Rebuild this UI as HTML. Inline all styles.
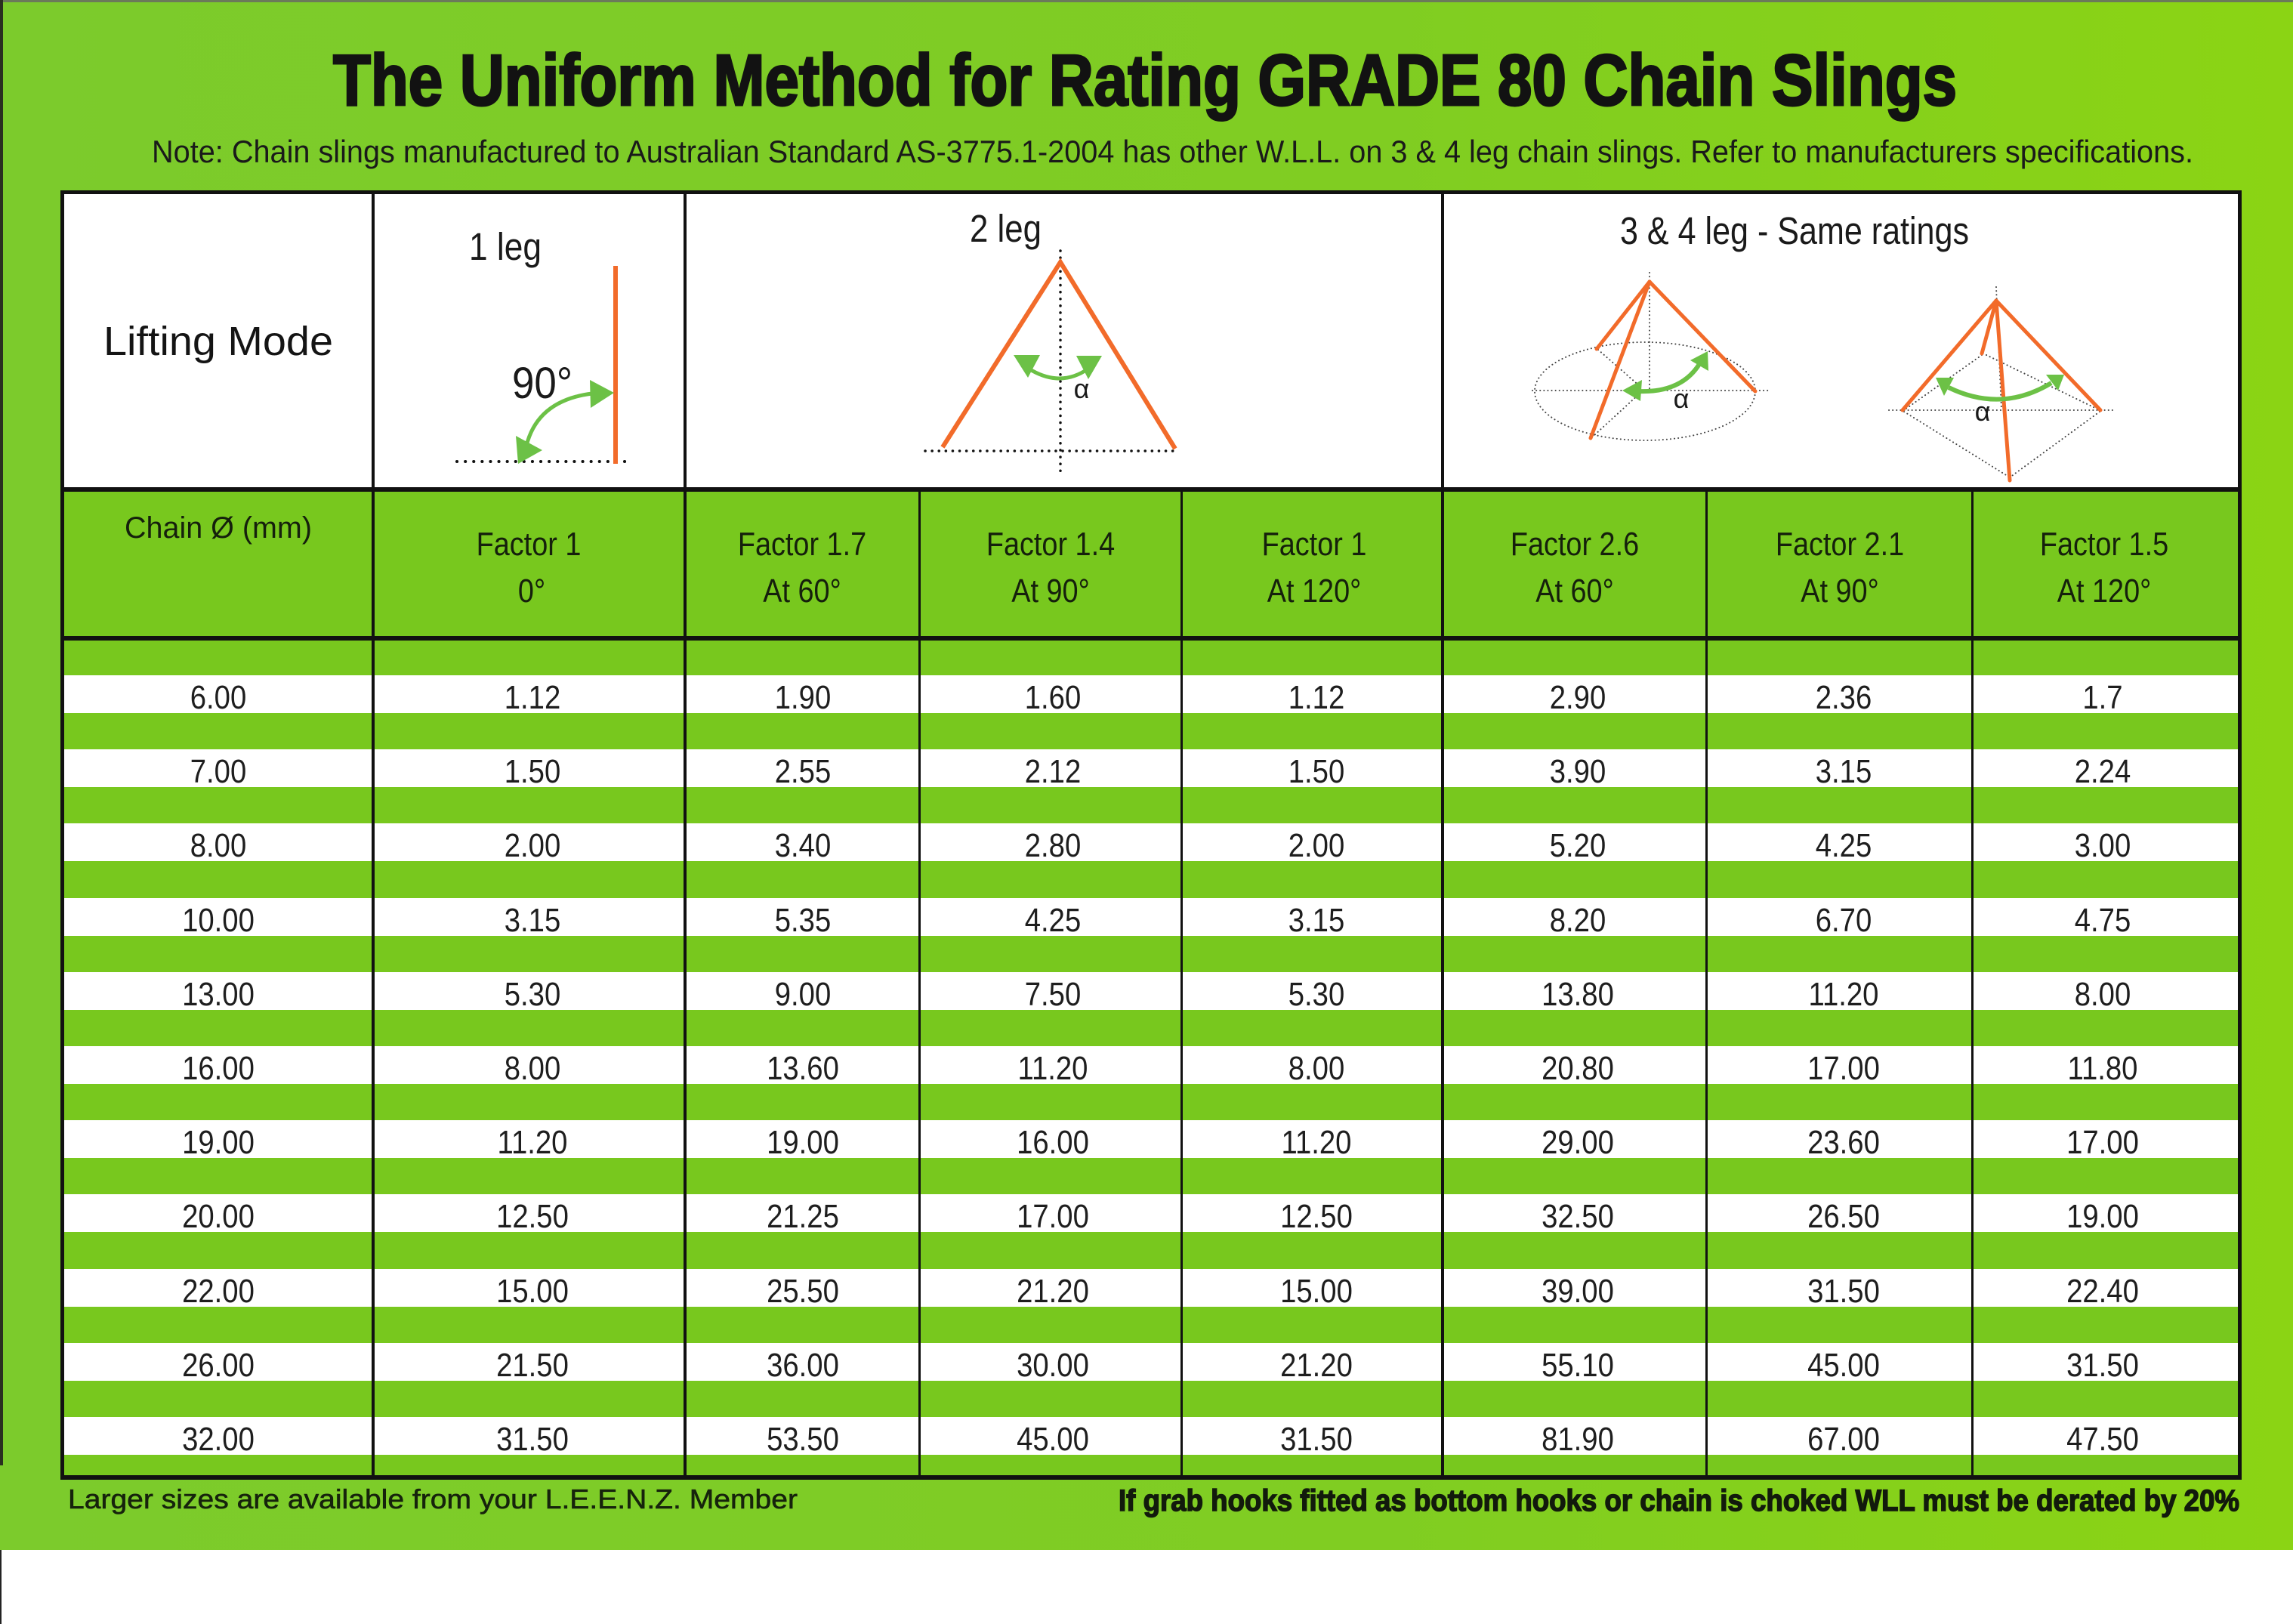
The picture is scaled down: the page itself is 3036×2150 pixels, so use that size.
<!DOCTYPE html>
<html>
<head>
<meta charset="utf-8">
<style>
html,body{margin:0;padding:0;background:#fff;}
svg{display:block;}
text{font-family:"Liberation Sans",Arial,sans-serif;}
.d{font-size:44px;fill:#1e1e1e;}
.h{font-size:44px;fill:#15200c;}
</style>
</head>
<body>
<svg width="3036" height="2150" viewBox="0 0 3036 2150" xmlns="http://www.w3.org/2000/svg">
<defs>
<linearGradient id="bg" x1="0" y1="0" x2="1" y2="0">
<stop offset="0" stop-color="#7ccb2c"/>
<stop offset="0.6" stop-color="#80cd22"/>
<stop offset="1" stop-color="#8bd414"/>
</linearGradient>
</defs>
<rect x="0" y="0" width="3036" height="2150" fill="#ffffff"/>
<rect x="0" y="0" width="3036" height="2052" fill="url(#bg)"/>
<rect x="0" y="0" width="3036" height="3" fill="#6b7a5a"/>
<rect x="0" y="0" width="4" height="1940" fill="#2a3020"/>
<rect x="0" y="2052" width="2" height="98" fill="#222"/>

<!-- Title -->
<text x="441" y="139" font-size="96" font-weight="bold" fill="#121212" stroke="#121212" stroke-width="3" textLength="2150" lengthAdjust="spacingAndGlyphs">The Uniform Method for Rating GRADE 80 Chain Slings</text>
<text x="201" y="215" font-size="42" fill="#1a1a1a" textLength="2703" lengthAdjust="spacingAndGlyphs">Note: Chain slings manufactured to Australian Standard AS-3775.1-2004 has other W.L.L. on 3 &amp; 4 leg chain slings. Refer to manufacturers specifications.</text>

<!-- Table backgrounds -->
<rect x="82" y="254" width="2884" height="394" fill="#ffffff"/>
<rect x="82" y="648" width="2884" height="1308" fill="#78c81e"/>
<g fill="#ffffff">
<rect x="82" y="894" width="2884" height="50"/>
<rect x="82" y="992" width="2884" height="50"/>
<rect x="82" y="1090" width="2884" height="50"/>
<rect x="82" y="1189" width="2884" height="50"/>
<rect x="82" y="1287" width="2884" height="50"/>
<rect x="82" y="1385" width="2884" height="50"/>
<rect x="82" y="1483" width="2884" height="50"/>
<rect x="82" y="1581" width="2884" height="50"/>
<rect x="82" y="1680" width="2884" height="50"/>
<rect x="82" y="1778" width="2884" height="50"/>
<rect x="82" y="1876" width="2884" height="50"/>
</g>

<!-- Table lines -->
<g fill="#111">
<rect x="80" y="252" width="2888" height="5"/>
<rect x="80" y="645" width="2888" height="6"/>
<rect x="80" y="842" width="2888" height="6"/>
<rect x="80" y="1953" width="2888" height="6"/>
<rect x="80" y="252" width="5" height="1707"/>
<rect x="2963" y="252" width="5" height="1707"/>
<rect x="492" y="252" width="4" height="1707"/>
<rect x="905" y="252" width="4" height="1707"/>
<rect x="1908" y="252" width="4" height="1707"/>
<rect x="1216" y="648" width="3" height="1310"/>
<rect x="1563" y="648" width="3" height="1310"/>
<rect x="2258" y="648" width="3" height="1310"/>
<rect x="2610" y="648" width="3" height="1310"/>
</g>

<!-- Header row 1 -->
<text x="137" y="470" font-size="54" fill="#141414" textLength="304" lengthAdjust="spacingAndGlyphs">Lifting Mode</text>

<!-- 1 leg -->
<text x="621" y="344" font-size="51" fill="#1a1a1a" textLength="96" lengthAdjust="spacingAndGlyphs">1 leg</text>
<line x1="605" y1="611" x2="834" y2="611" stroke="#111" stroke-width="4" stroke-linecap="round" stroke-dasharray="0.1 11"/>
<line x1="815" y1="352" x2="815" y2="614" stroke="#f26b2a" stroke-width="6"/>
<text x="678" y="527" font-size="58" fill="#1a1a1a" textLength="80" lengthAdjust="spacingAndGlyphs">90°</text>
<path d="M697,590 Q712,530 784,521" stroke="#6cc146" stroke-width="5" fill="none"/>
<polygon points="813,520 781,503 782,540" fill="#6cc146"/>
<polygon points="686,614 683,577 718,596" fill="#6cc146"/>

<!-- 2 leg -->
<text x="1284" y="320" font-size="51" fill="#1a1a1a" textLength="95" lengthAdjust="spacingAndGlyphs">2 leg</text>
<line x1="1404" y1="332" x2="1404" y2="628" stroke="#111" stroke-width="3.5" stroke-linecap="round" stroke-dasharray="0.1 9"/>
<line x1="1225" y1="597" x2="1560" y2="597" stroke="#111" stroke-width="3.5" stroke-linecap="round" stroke-dasharray="0.1 9"/>
<polyline points="1248,592 1404,347 1556,594" stroke="#f26b2a" stroke-width="6" fill="none" stroke-linejoin="miter"/>
<path d="M1362,488 Q1404,514 1441,488" stroke="#6cc146" stroke-width="5" fill="none"/>
<polygon points="1342,470 1377,470 1361,500" fill="#6cc146"/>
<polygon points="1425,471 1459,471 1441,502" fill="#6cc146"/>
<text x="1432" y="527" font-size="36" fill="#1a1a1a" text-anchor="middle">α</text>

<!-- 3 & 4 leg -->
<text x="2145" y="323" font-size="51" fill="#1a1a1a" textLength="462" lengthAdjust="spacingAndGlyphs">3 &amp; 4 leg - Same ratings</text>

<!-- left cone -->
<g stroke="#444" stroke-width="2" fill="none" stroke-linecap="round" stroke-dasharray="0.1 5">
<ellipse cx="2178" cy="518" rx="146" ry="65"/>
<line x1="2029" y1="517" x2="2342" y2="517"/>
<line x1="2184" y1="361" x2="2184" y2="515"/>
<line x1="2116" y1="463" x2="2172" y2="512"/>
<line x1="2172" y1="520" x2="2110" y2="577"/>
</g>
<g stroke="#f26b2a" stroke-width="5" fill="none" stroke-linecap="round">
<line x1="2184" y1="373" x2="2114" y2="462"/>
<line x1="2184" y1="373" x2="2106" y2="580"/>
<line x1="2184" y1="373" x2="2324" y2="518"/>
</g>
<path d="M2170,518 Q2226,520 2250,482" stroke="#6cc146" stroke-width="6" fill="none"/>
<polygon points="2148,517 2174,503 2172,531" fill="#6cc146"/>
<polygon points="2261,465 2262,491 2238,477" fill="#6cc146"/>
<text x="2226" y="540" font-size="36" fill="#1a1a1a" text-anchor="middle">α</text>

<!-- right pyramid -->
<g stroke="#444" stroke-width="2" fill="none" stroke-linecap="round" stroke-dasharray="0.1 5">
<line x1="2501" y1="543" x2="2798" y2="543"/>
<line x1="2643" y1="380" x2="2650" y2="543"/>
<line x1="2624" y1="470" x2="2521" y2="543"/>
<line x1="2630" y1="470" x2="2780" y2="543"/>
<line x1="2521" y1="545" x2="2661" y2="632"/>
<line x1="2780" y1="545" x2="2661" y2="632"/>
</g>
<g stroke="#f26b2a" stroke-width="5" fill="none" stroke-linecap="round">
<line x1="2643" y1="398" x2="2519" y2="543"/>
<line x1="2643" y1="398" x2="2781" y2="543"/>
<line x1="2643" y1="398" x2="2661" y2="636"/>
<line x1="2643" y1="398" x2="2624" y2="468"/>
</g>
<path d="M2580,513 Q2650,547 2716,507" stroke="#6cc146" stroke-width="6" fill="none"/>
<polygon points="2563,500 2587,500 2574,524" fill="#6cc146"/>
<polygon points="2733,496 2725,517 2709,496" fill="#6cc146"/>
<text x="2625" y="557" font-size="36" fill="#1a1a1a" text-anchor="middle">α</text>

<!-- Header row 2 -->
<text x="289" y="712" font-size="40" fill="#15200c" text-anchor="middle" textLength="248" lengthAdjust="spacingAndGlyphs">Chain Ø (mm)</text>
<g class="h" text-anchor="middle">
<text transform="translate(700,735) scale(0.86,1)">Factor 1</text>
<text transform="translate(704,797) scale(0.86,1)">0°</text>
<text transform="translate(1062,735) scale(0.86,1)">Factor 1.7</text>
<text transform="translate(1062,797) scale(0.86,1)">At 60°</text>
<text transform="translate(1391,735) scale(0.86,1)">Factor 1.4</text>
<text transform="translate(1391,797) scale(0.86,1)">At 90°</text>
<text transform="translate(1740,735) scale(0.86,1)">Factor 1</text>
<text transform="translate(1740,797) scale(0.86,1)">At 120°</text>
<text transform="translate(2085,735) scale(0.86,1)">Factor 2.6</text>
<text transform="translate(2085,797) scale(0.86,1)">At 60°</text>
<text transform="translate(2436,735) scale(0.86,1)">Factor 2.1</text>
<text transform="translate(2436,797) scale(0.86,1)">At 90°</text>
<text transform="translate(2786,735) scale(0.86,1)">Factor 1.5</text>
<text transform="translate(2786,797) scale(0.86,1)">At 120°</text>
</g>

<!-- Data -->
<g class="d" text-anchor="middle">
<text transform="translate(289,938) scale(0.87,1)">6.00</text>
<text transform="translate(705,938) scale(0.87,1)">1.12</text>
<text transform="translate(1063,938) scale(0.87,1)">1.90</text>
<text transform="translate(1394,938) scale(0.87,1)">1.60</text>
<text transform="translate(1743,938) scale(0.87,1)">1.12</text>
<text transform="translate(2089,938) scale(0.87,1)">2.90</text>
<text transform="translate(2441,938) scale(0.87,1)">2.36</text>
<text transform="translate(2784,938) scale(0.87,1)">1.7</text>

<text transform="translate(289,1036) scale(0.87,1)">7.00</text>
<text transform="translate(705,1036) scale(0.87,1)">1.50</text>
<text transform="translate(1063,1036) scale(0.87,1)">2.55</text>
<text transform="translate(1394,1036) scale(0.87,1)">2.12</text>
<text transform="translate(1743,1036) scale(0.87,1)">1.50</text>
<text transform="translate(2089,1036) scale(0.87,1)">3.90</text>
<text transform="translate(2441,1036) scale(0.87,1)">3.15</text>
<text transform="translate(2784,1036) scale(0.87,1)">2.24</text>

<text transform="translate(289,1134) scale(0.87,1)">8.00</text>
<text transform="translate(705,1134) scale(0.87,1)">2.00</text>
<text transform="translate(1063,1134) scale(0.87,1)">3.40</text>
<text transform="translate(1394,1134) scale(0.87,1)">2.80</text>
<text transform="translate(1743,1134) scale(0.87,1)">2.00</text>
<text transform="translate(2089,1134) scale(0.87,1)">5.20</text>
<text transform="translate(2441,1134) scale(0.87,1)">4.25</text>
<text transform="translate(2784,1134) scale(0.87,1)">3.00</text>

<text transform="translate(289,1233) scale(0.87,1)">10.00</text>
<text transform="translate(705,1233) scale(0.87,1)">3.15</text>
<text transform="translate(1063,1233) scale(0.87,1)">5.35</text>
<text transform="translate(1394,1233) scale(0.87,1)">4.25</text>
<text transform="translate(1743,1233) scale(0.87,1)">3.15</text>
<text transform="translate(2089,1233) scale(0.87,1)">8.20</text>
<text transform="translate(2441,1233) scale(0.87,1)">6.70</text>
<text transform="translate(2784,1233) scale(0.87,1)">4.75</text>

<text transform="translate(289,1331) scale(0.87,1)">13.00</text>
<text transform="translate(705,1331) scale(0.87,1)">5.30</text>
<text transform="translate(1063,1331) scale(0.87,1)">9.00</text>
<text transform="translate(1394,1331) scale(0.87,1)">7.50</text>
<text transform="translate(1743,1331) scale(0.87,1)">5.30</text>
<text transform="translate(2089,1331) scale(0.87,1)">13.80</text>
<text transform="translate(2441,1331) scale(0.87,1)">11.20</text>
<text transform="translate(2784,1331) scale(0.87,1)">8.00</text>

<text transform="translate(289,1429) scale(0.87,1)">16.00</text>
<text transform="translate(705,1429) scale(0.87,1)">8.00</text>
<text transform="translate(1063,1429) scale(0.87,1)">13.60</text>
<text transform="translate(1394,1429) scale(0.87,1)">11.20</text>
<text transform="translate(1743,1429) scale(0.87,1)">8.00</text>
<text transform="translate(2089,1429) scale(0.87,1)">20.80</text>
<text transform="translate(2441,1429) scale(0.87,1)">17.00</text>
<text transform="translate(2784,1429) scale(0.87,1)">11.80</text>

<text transform="translate(289,1527) scale(0.87,1)">19.00</text>
<text transform="translate(705,1527) scale(0.87,1)">11.20</text>
<text transform="translate(1063,1527) scale(0.87,1)">19.00</text>
<text transform="translate(1394,1527) scale(0.87,1)">16.00</text>
<text transform="translate(1743,1527) scale(0.87,1)">11.20</text>
<text transform="translate(2089,1527) scale(0.87,1)">29.00</text>
<text transform="translate(2441,1527) scale(0.87,1)">23.60</text>
<text transform="translate(2784,1527) scale(0.87,1)">17.00</text>

<text transform="translate(289,1625) scale(0.87,1)">20.00</text>
<text transform="translate(705,1625) scale(0.87,1)">12.50</text>
<text transform="translate(1063,1625) scale(0.87,1)">21.25</text>
<text transform="translate(1394,1625) scale(0.87,1)">17.00</text>
<text transform="translate(1743,1625) scale(0.87,1)">12.50</text>
<text transform="translate(2089,1625) scale(0.87,1)">32.50</text>
<text transform="translate(2441,1625) scale(0.87,1)">26.50</text>
<text transform="translate(2784,1625) scale(0.87,1)">19.00</text>

<text transform="translate(289,1724) scale(0.87,1)">22.00</text>
<text transform="translate(705,1724) scale(0.87,1)">15.00</text>
<text transform="translate(1063,1724) scale(0.87,1)">25.50</text>
<text transform="translate(1394,1724) scale(0.87,1)">21.20</text>
<text transform="translate(1743,1724) scale(0.87,1)">15.00</text>
<text transform="translate(2089,1724) scale(0.87,1)">39.00</text>
<text transform="translate(2441,1724) scale(0.87,1)">31.50</text>
<text transform="translate(2784,1724) scale(0.87,1)">22.40</text>

<text transform="translate(289,1822) scale(0.87,1)">26.00</text>
<text transform="translate(705,1822) scale(0.87,1)">21.50</text>
<text transform="translate(1063,1822) scale(0.87,1)">36.00</text>
<text transform="translate(1394,1822) scale(0.87,1)">30.00</text>
<text transform="translate(1743,1822) scale(0.87,1)">21.20</text>
<text transform="translate(2089,1822) scale(0.87,1)">55.10</text>
<text transform="translate(2441,1822) scale(0.87,1)">45.00</text>
<text transform="translate(2784,1822) scale(0.87,1)">31.50</text>

<text transform="translate(289,1920) scale(0.87,1)">32.00</text>
<text transform="translate(705,1920) scale(0.87,1)">31.50</text>
<text transform="translate(1063,1920) scale(0.87,1)">53.50</text>
<text transform="translate(1394,1920) scale(0.87,1)">45.00</text>
<text transform="translate(1743,1920) scale(0.87,1)">31.50</text>
<text transform="translate(2089,1920) scale(0.87,1)">81.90</text>
<text transform="translate(2441,1920) scale(0.87,1)">67.00</text>
<text transform="translate(2784,1920) scale(0.87,1)">47.50</text>
</g>

<!-- Footer texts -->
<text x="90" y="1997" font-size="36" fill="#16230c" stroke="#16230c" stroke-width="0.6" textLength="966" lengthAdjust="spacingAndGlyphs">Larger sizes are available from your L.E.E.N.Z. Member</text>
<text x="1481" y="2000" font-size="40" font-weight="bold" fill="#121a0c" stroke="#121a0c" stroke-width="1.5" textLength="1484" lengthAdjust="spacingAndGlyphs">If grab hooks fitted as bottom hooks or chain is choked WLL must be derated by 20%</text>
</svg>
</body>
</html>
